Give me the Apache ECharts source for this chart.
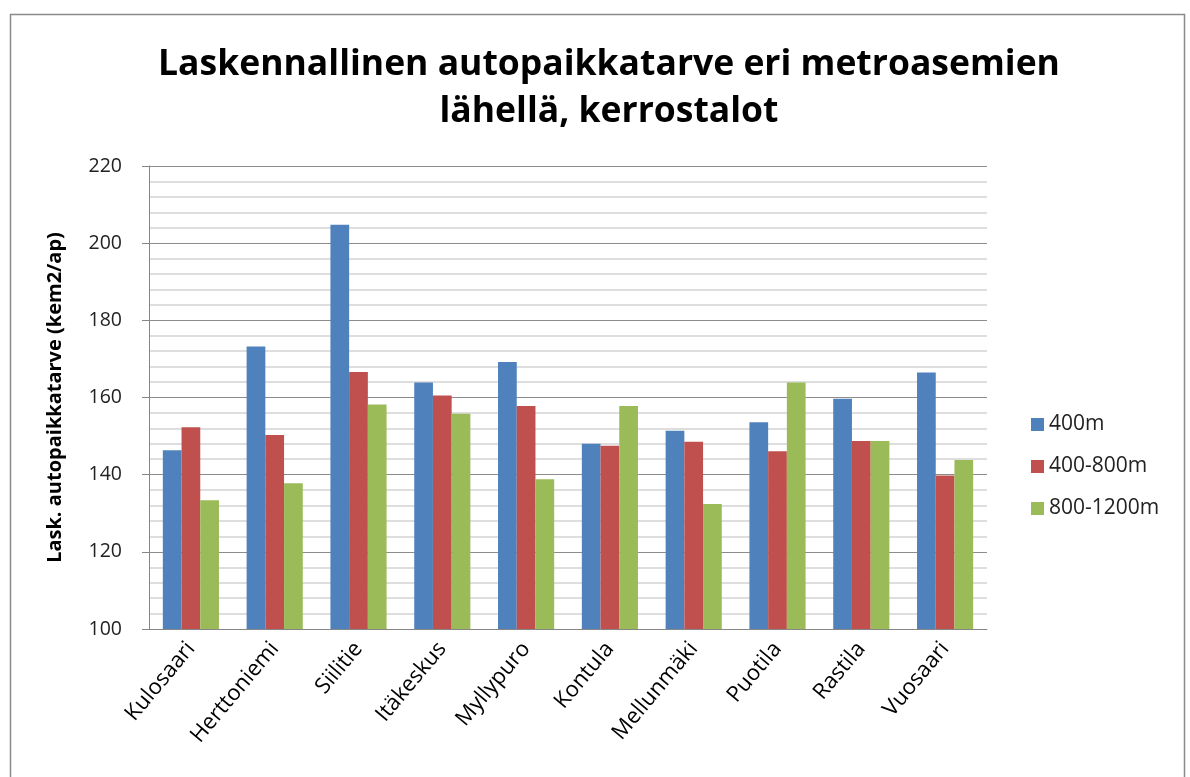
<!DOCTYPE html>
<html>
<head>
<meta charset="utf-8">
<script src="https://cdn.jsdelivr.net/npm/echarts@6/dist/echarts.min.js"></script>
<style>
html,body{margin:0;padding:0;background:#fff;}
#chart{width:1190px;height:777px;}
</style>
</head>
<body>
<div id="chart"></div>
<script>
var categories = ['Kulosaari','Herttoniemi','Siilitie','Itäkeskus','Myllypuro','Kontula','Mellunmäki','Puotila','Rastila','Vuosaari'];
var seriesNames = ['400m','400-800m','800-1200m'];
var s400 = [146.3,173.2,204.8,163.9,169.2,148.0,151.4,153.6,159.7,166.5];
var s400_800 = [152.3,150.3,166.6,160.5,157.8,147.5,148.5,146.1,148.7,139.8];
var s800_1200 = [133.4,137.8,158.2,155.8,138.8,157.8,132.4,163.9,148.7,143.8];
var titleText = 'Laskennallinen autopaikkatarve eri metroasemien\nlähellä, kerrostalot';
var yAxisName = 'Lask. autopaikkatarve (kem2/ap)';

var colors = ['#4F81BD','#C0504D','#9BBB59'];
var font = '"Open Sans", "Noto Sans", sans-serif';
var chart = echarts.init(document.getElementById('chart'));
var data = [s400, s400_800, s800_1200];
chart.setOption({
  animation: false,
  color: colors,
  graphic: [{
    type: 'rect', left: 8, top: 12,
    shape: {width: 1174, height: 800},
    style: {fill: 'none', stroke: '#8a8a8a', lineWidth: 1.5},
    silent: true, z: -1
  }],
  title: {
    text: titleText,
    left: 604, top: 36, textAlign: 'center',
    textStyle: {fontFamily: font, fontWeight: 'bold', fontSize: 35.5, lineHeight: 47, color: '#000'}
  },
  legend: {
    orient: 'vertical', left: 1026, top: 409,
    itemWidth: 13, itemHeight: 13, itemGap: 21,
    icon: 'rect',
    textStyle: {fontFamily: font, fontSize: 21, lineHeight: 21, color: '#222'},
    data: seriesNames
  },
  grid: {left: 149, right: 203, top: 166, bottom: 148, containLabel: false},
  xAxis: {
    type: 'category', data: categories,
    axisLine: {lineStyle: {color: '#868686', width: 1}},
    axisTick: {show: false},
    axisLabel: {rotate: 50, interval: 0, fontFamily: font, fontSize: 22, color: '#000', margin: 16}
  },
  yAxis: {
    type: 'value', min: 100, max: 220, interval: 20,
    name: yAxisName, nameLocation: 'middle', nameGap: 84, nameRotate: 90,
    nameTextStyle: {fontFamily: font, fontWeight: 'bold', fontSize: 20, color: '#000'},
    axisLine: {show: true, lineStyle: {color: '#868686', width: 1}},
    axisTick: {show: true, length: 7, lineStyle: {color: '#868686'}},
    axisLabel: {fontFamily: font, fontSize: 19.5, color: '#222', margin: 27},
    splitLine: {show: true, lineStyle: {color: '#8c8c8c', width: 1}},
    minorTick: {show: true, splitNumber: 5, length: 0},
    minorSplitLine: {show: true, lineStyle: {color: '#d3d3d3', width: 1.5}}
  },
  series: seriesNames.map(function(n, i){
    return {
      name: n, type: 'bar', data: data[i],
      barGap: '0%', barCategoryGap: '33%',
      itemStyle: {color: colors[i]}
    };
  })
});
</script>
</body>
</html>
